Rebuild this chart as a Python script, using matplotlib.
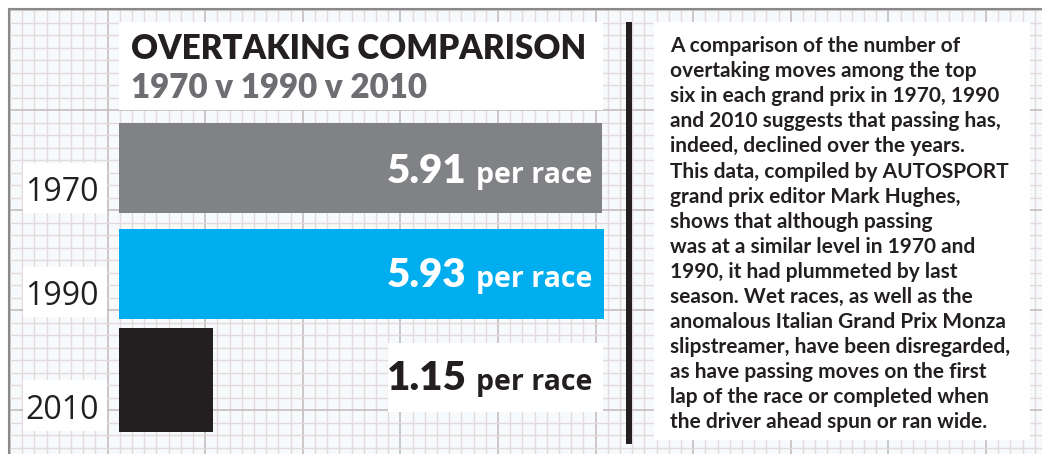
import numpy as np
import matplotlib
matplotlib.use("Agg")
import matplotlib.pyplot as plt
from matplotlib.patches import Rectangle

# data
years = ["1970", "1990", "2010"]
per_race = [5.91, 5.93, 1.15]
bar_colors = ["#808285", "#00aeef", "#231f20"]
label_colors = ["white", "white", "#231f20"]
title = "OVERTAKING COMPARISON"
subtitle = "1970 v 1990 v 2010"
body = [
    "A comparison of the number of",
    "overtaking moves among the top",
    "six in each grand prix in 1970, 1990",
    "and 2010 suggests that passing has,",
    "indeed, declined over the years.",
    "This data, compiled by AUTOSPORT",
    "grand prix editor Mark Hughes,",
    "shows that although passing",
    "was at a similar level in 1970 and",
    "1990, it had plummeted by last",
    "season. Wet races, as well as the",
    "anomalous Italian Grand Prix Monza",
    "slipstreamer, have been disregarded,",
    "as have passing moves on the first",
    "lap of the race or completed when",
    "the driver ahead spun or ran wide.",
]

W, H = 1042, 454
fig = plt.figure(figsize=(W / 100, H / 100), dpi=100)
fig.patch.set_facecolor("white")
renderer = fig.canvas.get_renderer()

def pixel_axes():
    a = fig.add_axes([0, 0, 1, 1])
    a.set_xlim(0, W)
    a.set_ylim(H, 0)
    a.patch.set_alpha(0)
    a.axis("off")
    return a

# background paper
bg = pixel_axes()
bg.add_patch(Rectangle((9, 9), W, H, facecolor="#f7fafc", edgecolor="none", zorder=0))

step_x, step_y = 12.2, 12.5
for i, x in enumerate(np.arange(10, W, step_x)):
    major = i % 8 == 0
    bg.plot([x, x], [9, H], color="#c6bdbd" if major else "#e3dbdb",
            lw=1.2 if major else 1.0, zorder=1)
for i, y in enumerate(np.arange(10, H, step_y)):
    major = i % 8 == 0
    bg.plot([9, W], [y, y], color="#c6bdbd" if major else "#e3dbdb",
            lw=1.2 if major else 1.0, zorder=1)
bg.plot([9, W], [9, 9], color="#8a8a8a", lw=1.5, zorder=2)
bg.plot([9, 9], [9, H], color="#8a8a8a", lw=1.5, zorder=2)

def white_box(x0, y0, x1, y1):
    bg.add_patch(Rectangle((x0, y0), x1 - x0, y1 - y0, facecolor="white",
                           edgecolor="none", zorder=3))

white_box(119, 22, 603, 110)
white_box(654, 22, 1030, 440)
white_box(388, 343, 603, 412)
for (y0, y1) in [(163, 213), (267, 317), (380, 431)]:
    white_box(23, y0, 107, y1)

bg.add_patch(Rectangle((626, 22), 6, 422, facecolor="#231f20", edgecolor="none", zorder=3))

def fit_text(ax, x, y, s, width, size, **kw):
    t = ax.text(x, y, s, fontsize=size, va="baseline", zorder=4, **kw)
    w = t.get_window_extent(renderer).width
    t.set_fontsize(size * width / w)
    return t

# titles
fit_text(bg, 131, 59, title, 456, 24, fontweight="heavy", family="Lato", color="#231f20")
fit_text(bg, 131, 98, subtitle, 297, 24, fontweight="heavy", family="Lato", color="#6d6e71")

# body text
for i, line in enumerate(body):
    bg.text(670, 52 + i * 25.1, line, fontsize=15, fontweight="bold", family="Lato",
            color="#231f20", va="baseline", zorder=4)

# year labels
for yr, yb in zip(years, [201, 305, 419]):
    bg.text(25, yb, yr, fontsize=23, family="Open Sans", color="#231f20",
            va="baseline", zorder=4)

# bars
scale = 81.8  # px per race
bx = fig.add_axes([119 / W, (H - 440) / H, 500 / W, 330 / H])
bx.patch.set_alpha(0)
bx.set_xlim(0, 500 / scale)
bx.set_ylim(2 + 60 / 106, -58 / 106)
bx.axis("off")
bx.barh(range(len(years)), per_race, height=[0.85, 0.85, 0.98], color=bar_colors, zorder=3)

# value labels on top
fg = pixel_axes()
for v, c, yb in zip(per_race, label_colors, [183, 287, 390]):
    t = fg.text(592, yb, "per race", fontsize=20.5, fontweight="bold", family="Open Sans",
                color=c, ha="right", va="baseline", zorder=5)
    w = t.get_window_extent(renderer).width
    fg.text(592 - w - 9, yb, f"{v:.2f}", fontsize=29, fontweight="heavy", family="Lato",
            color=c, ha="right", va="baseline", zorder=5)

fig.savefig("out.png", dpi=100)
